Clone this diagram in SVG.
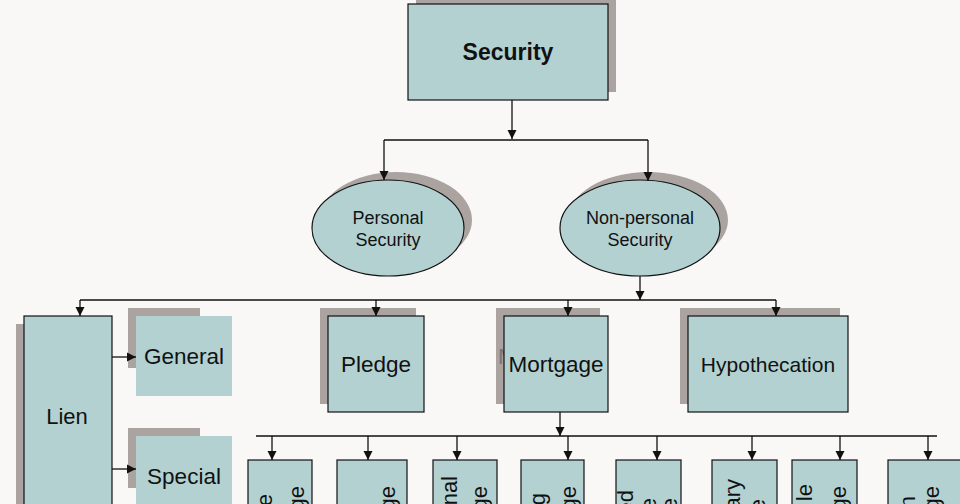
<svg xmlns="http://www.w3.org/2000/svg" width="960" height="504" viewBox="0 0 960 504">
<defs>
<style>
.box{fill:#b3d1d1;stroke:#111;stroke-width:1.2}
.sh{fill:#aaa3a0}
.t{font-family:"Liberation Sans",Arial,sans-serif;fill:#111;text-anchor:middle}
.r{font-family:"Liberation Sans",Arial,sans-serif;fill:#111;font-size:22px;text-anchor:end}
.c{fill:none;stroke:#111;stroke-width:1.3}
</style>
<marker id="ah" markerUnits="userSpaceOnUse" markerWidth="10" markerHeight="10" refX="9" refY="5" orient="auto">
<path d="M0,0.5 L9,5 L0,9.5 z" fill="#111"/>
</marker>
<clipPath id="mclip"><rect x="490" y="300" width="14" height="110"/></clipPath>
</defs>
<rect width="960" height="504" fill="#f9f8f7"/>

<g id="security">
<rect class="sh" x="416" y="-4" width="200" height="96"/>
<rect class="box" x="408" y="4" width="200" height="96"/>
<text class="t" x="508" y="60" font-size="23" font-weight="bold">Security</text>
</g>

<g id="personal">
<ellipse class="sh" cx="396" cy="220" rx="76" ry="48"/>
<ellipse class="box" cx="388" cy="228" rx="76" ry="48"/>
<text class="t" x="388" y="224" font-size="18">Personal</text>
<text class="t" x="388" y="246" font-size="18">Security</text>
</g>

<g id="nonpersonal">
<ellipse class="sh" cx="648" cy="220" rx="80" ry="48"/>
<ellipse class="box" cx="640" cy="228" rx="80" ry="48"/>
<text class="t" x="640" y="224" font-size="18">Non-personal</text>
<text class="t" x="640" y="246" font-size="18">Security</text>
</g>

<g id="lien">
<rect class="sh" x="16" y="324" width="88" height="200"/>
<rect class="box" x="24" y="316" width="88" height="200"/>
<text class="t" x="67" y="424" font-size="22">Lien</text>
</g>

<g id="general">
<rect class="sh" x="128" y="308" width="72" height="60"/>
<rect class="box" x="136" y="316" width="96" height="80" style="stroke:none"/>
<text class="t" x="184" y="364" font-size="22.5">General</text>
</g>

<g id="special">
<rect class="sh" x="128" y="428" width="72" height="60"/>
<rect class="box" x="136" y="436" width="96" height="80" style="stroke:none"/>
<text class="t" x="184" y="484" font-size="22.5">Special</text>
</g>

<g id="pledge">
<rect class="sh" x="320" y="308" width="96" height="96"/>
<rect class="box" x="328" y="316" width="96" height="96"/>
<text class="t" x="376" y="372" font-size="22.5">Pledge</text>
</g>

<g id="mortgage">
<rect class="sh" x="496" y="308" width="104" height="96"/>
<text x="498" y="364" font-size="22.5" clip-path="url(#mclip)" style="font-family:'Liberation Sans',Arial,sans-serif;fill:#7d7573">M</text>
<rect class="box" x="504" y="316" width="104" height="96"/>
<text class="t" x="556" y="372" font-size="22.5">Mortgage</text>
</g>

<g id="hypothecation">
<rect class="sh" x="680" y="308" width="160" height="96"/>
<rect class="box" x="688" y="316" width="160" height="96"/>
<text class="t" x="768" y="372" font-size="21">Hypothecation</text>
</g>

<g id="b1">
<rect class="box" x="248" y="460" width="64" height="60"/>
<text class="r" transform="translate(272,494) rotate(-90)">e</text>
<text class="r" transform="translate(304,486) rotate(-90)">ge</text>
</g>
<g id="b2">
<rect class="box" x="337" y="460" width="70" height="60"/>
<text class="r" transform="translate(395,486) rotate(-90)">ge</text>
</g>
<g id="b3">
<rect class="box" x="433" y="460" width="64" height="60"/>
<text class="r" transform="translate(457,476) rotate(-90)">nal</text>
<text class="r" transform="translate(487,486) rotate(-90)">ge</text>
</g>
<g id="b4">
<rect class="box" x="521" y="460" width="63" height="60"/>
<text class="r" transform="translate(545,493) rotate(-90)">g</text>
<text class="r" transform="translate(576,486) rotate(-90)">ge</text>
</g>
<g id="b5">
<rect class="box" x="616" y="460" width="65" height="60"/>
<text class="r" transform="translate(633,490) rotate(-90)">ed</text>
<text class="r" transform="translate(656,498) rotate(-90)">e</text>
<text class="r" transform="translate(677,498) rotate(-90)">e</text>
</g>
<g id="b6">
<rect class="box" x="712" y="460" width="65" height="60"/>
<text class="r" transform="translate(740,479) rotate(-90)">ary</text>
<text class="r" transform="translate(765,499) rotate(-90)">e</text>
</g>
<g id="b7">
<rect class="box" x="792" y="460" width="65" height="60"/>
<text class="r" transform="translate(812,484) rotate(-90)">le</text>
<text class="r" transform="translate(846,486) rotate(-90)">ge</text>
</g>
<g id="b8">
<rect class="box" x="888" y="460" width="80" height="60"/>
<text class="r" transform="translate(915,496) rotate(-90)">n</text>
<text class="r" transform="translate(939,486) rotate(-90)">ge</text>
</g>

<g id="connectors">
<path class="c" d="M512,100 V139" marker-end="url(#ah)"/>
<path class="c" d="M384,140 H648"/>
<path class="c" d="M384,140 V180" marker-end="url(#ah)"/>
<path class="c" d="M648,140 V181" marker-end="url(#ah)"/>
<path class="c" d="M640,276 V300" marker-end="url(#ah)"/>
<path class="c" d="M80,300 H776"/>
<path class="c" d="M80,300 V316" marker-end="url(#ah)"/>
<path class="c" d="M376,300 V316" marker-end="url(#ah)"/>
<path class="c" d="M568,300 V316" marker-end="url(#ah)"/>
<path class="c" d="M776,300 V316" marker-end="url(#ah)"/>
<path class="c" d="M112,357 H136" marker-end="url(#ah)"/>
<path class="c" d="M112,469 H136" marker-end="url(#ah)"/>
<path class="c" d="M560,412 V436" marker-end="url(#ah)"/>
<path class="c" d="M256,436 H937"/>
<path class="c" d="M272,436 V460" marker-end="url(#ah)"/>
<path class="c" d="M368,436 V460" marker-end="url(#ah)"/>
<path class="c" d="M457,436 V460" marker-end="url(#ah)"/>
<path class="c" d="M568,436 V460" marker-end="url(#ah)"/>
<path class="c" d="M657,436 V460" marker-end="url(#ah)"/>
<path class="c" d="M752,436 V460" marker-end="url(#ah)"/>
<path class="c" d="M840,436 V460" marker-end="url(#ah)"/>
<path class="c" d="M928,436 V460" marker-end="url(#ah)"/>
</g>
</svg>
